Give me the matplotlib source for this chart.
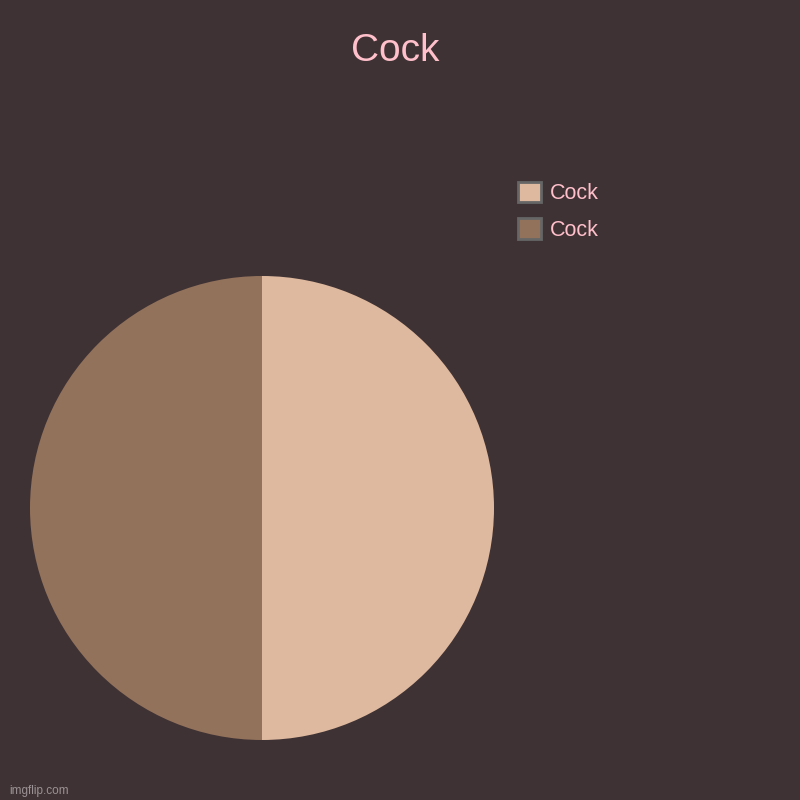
import matplotlib
matplotlib.use("Agg")
import matplotlib.pyplot as plt

plt.rcParams["font.family"] = ["Liberation Sans", "DejaVu Sans"]

title = "Cock"
labels = ["Cock", "Cock"]
values = [50, 50]
colors = ["#dfb99f", "#93725b"]

bg = "#3f3234"
text_color = "#ffc0cb"

fig = plt.figure(figsize=(8, 8), dpi=100, facecolor=bg)
ax = fig.add_axes([0.0375, 0.075, 0.58, 0.58])
ax.set_facecolor(bg)

wedges, _ = ax.pie(values, colors=colors, startangle=90, counterclock=False,
                   wedgeprops=dict(linewidth=0))
ax.set_aspect("equal")
ax.set_xlim(-1, 1)
ax.set_ylim(-1, 1)
ax.axis("off")

fig.text(0.494, 0.936, title, color=text_color, fontsize=28, ha="center", va="center")

leg = fig.legend(wedges, labels, loc="upper left", bbox_to_anchor=(0.647, 0.773),
                 frameon=False, fontsize=15.5, handlelength=1.1, handleheight=1.1,
                 handletextpad=0.4, labelspacing=0.65, borderpad=0, borderaxespad=0)
for t in leg.get_texts():
    t.set_color(text_color)
for h in leg.legend_handles:
    h.set_edgecolor("#666666")
    h.set_linewidth(2)

fig.text(0.012, 0.004, "imgflip.com", color="#9a9294", fontsize=8.5, ha="left", va="bottom")

fig.savefig("out.png", dpi=100, facecolor=bg)
